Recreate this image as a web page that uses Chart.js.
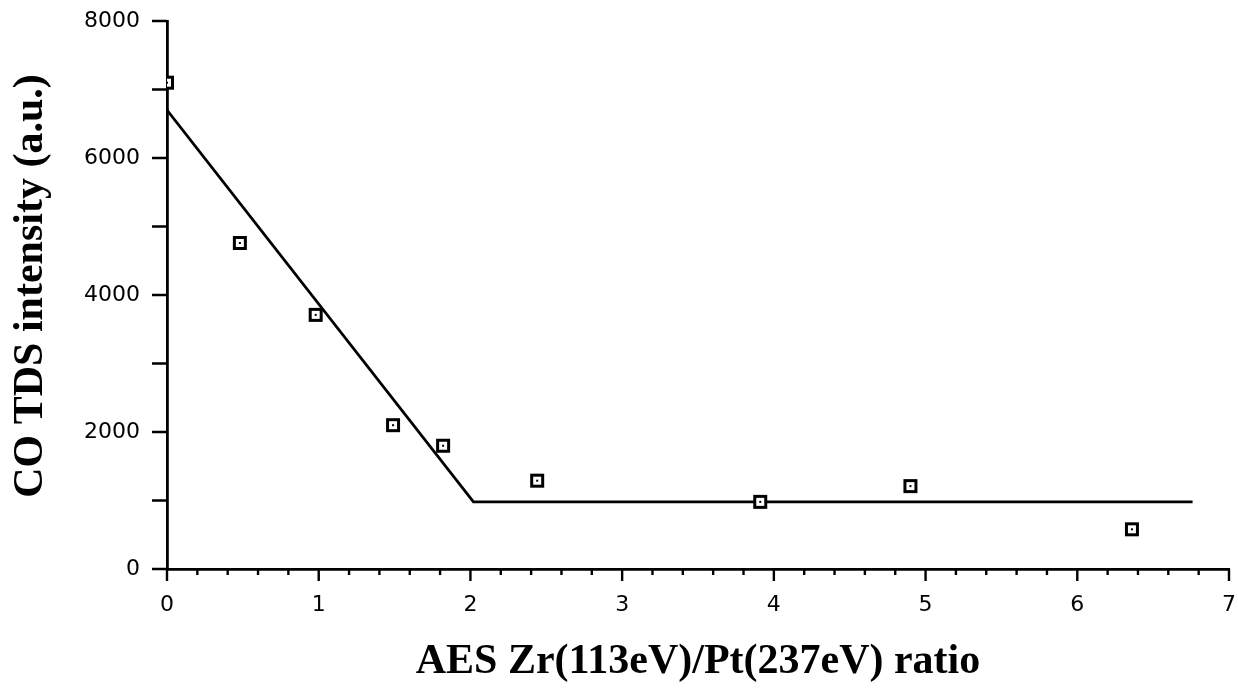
<!DOCTYPE html>
<html>
<head>
<meta charset="utf-8">
<script src="https://cdn.jsdelivr.net/npm/chart.js@4.4.0/dist/chart.umd.min.js"></script>
<style>
    html,body{margin:0;padding:0;background:#fff;}
    #wrap{width:1238px;height:693px;position:relative;}
</style>
</head>
<body>
<div id="wrap"><canvas id="chart" width="1238" height="693"></canvas></div>
<script>

// measured points
const ratioX = [0, 0.48, 0.98, 1.49, 1.82, 2.44, 3.91, 4.90, 6.36];
const intensityY = [7100, 4760, 3710, 2100, 1800, 1290, 980, 1210, 580];

// fitted line (break at ~2.02)
const fitX = [0, 2.02, 6.76];
const fitY = [6700, 980, 980];

const xLabels = [0, 1, 2, 3, 4, 5, 6, 7];
const yLabels = [0, 2000, 4000, 6000, 8000];

const xTitle = "AES Zr(113eV)/Pt(237eV) ratio";
const yTitle = "CO TDS intensity (a.u.)";

const INK = "#000";

// square marker with a dot in the middle
function makeMarker(){
    const c = document.createElement("canvas");
    c.width = 16; c.height = 16;
    const g = c.getContext("2d");
    g.fillStyle = "#fff";
    g.fillRect(1,1,14,14);
    g.strokeStyle = INK;
    g.lineWidth = 3;
    g.strokeRect(2.5,2.5,11,11);
    g.fillStyle = INK;
    g.fillRect(7,7,2,2);
    return c;
}

// hand-style tick marks, minor and major, plus axis titles
const decorations = {
    id:"decorations",
    afterDraw(chart){
        const ctx = chart.ctx;
        const x = chart.scales.x, y = chart.scales.y;
        const area = chart.chartArea;
        ctx.save();
        ctx.strokeStyle = INK;
        ctx.lineWidth = 2.4;
        ctx.beginPath();
        for(let i=0;i<=35;i++){
            const px = x.getPixelForValue(i/5);
            const len = (i%5===0) ? 12 : 6;
            ctx.moveTo(px, area.bottom);
            ctx.lineTo(px, area.bottom + len);
        }
        for(let v=0; v<=8000; v+=1000){
            const py = y.getPixelForValue(v);
            ctx.moveTo(area.left, py);
            ctx.lineTo(area.left - 15, py);
        }
        ctx.stroke();

        ctx.fillStyle = INK;
        ctx.font = "bold 42px 'Liberation Serif'";
        ctx.textAlign = "center";
        ctx.textBaseline = "alphabetic";
        ctx.fillText(xTitle, (area.left + area.right)/2, 673);

        ctx.translate(42, 286);
        ctx.rotate(-Math.PI/2);
        ctx.fillText(yTitle, 0, 0);
        ctx.restore();
    }
};

function noPad(s){
    s.paddingTop = 0; s.paddingBottom = 0;
    s.paddingLeft = 0; s.paddingRight = 0;
}

const ctx = document.getElementById("chart").getContext("2d");

new Chart(ctx,{
    type:"scatter",
    data:{
        datasets:[
            {
                data: fitX.map((v,i)=>({x:v, y:fitY[i]})),
                showLine:true,
                borderColor:INK,
                borderWidth:2.8,
                pointRadius:0,
                tension:0,
                order:2
            },
            {
                data: ratioX.map((v,i)=>({x:v, y:intensityY[i]})),
                pointStyle: makeMarker(),
                pointRadius:8,
                showLine:false,
                order:1
            }
        ]
    },
    options:{
        responsive:false,
        animation:false,
        layout:{padding:{top:21, right:5, left:0, bottom:0}},
        plugins:{legend:{display:false}, tooltip:{enabled:false}},
        scales:{
            x:{
                type:"linear",
                min:0, max:7,
                afterFit(s){ s.height = 124; noPad(s); },
                grid:{display:true, drawOnChartArea:false, drawTicks:false},
                border:{display:true, color:INK, width:2.8},
                ticks:{
                    stepSize:1,
                    padding:23,
                    color:INK,
                    font:{family:"DejaVu Sans", size:22},
                    callback:v=>xLabels.includes(v) ? String(v) : ""
                }
            },
            y:{
                type:"linear",
                min:0, max:8000,
                afterFit(s){ s.width = 167; noPad(s); },
                grid:{display:true, drawOnChartArea:false, drawTicks:false},
                border:{display:true, color:INK, width:2.8},
                ticks:{
                    stepSize:2000,
                    padding:27,
                    color:INK,
                    font:{family:"DejaVu Sans", size:22},
                    callback:v=>yLabels.includes(v) ? String(v) : ""
                }
            }
        }
    },
    plugins:[decorations]
});
</script>
</body>
</html>
